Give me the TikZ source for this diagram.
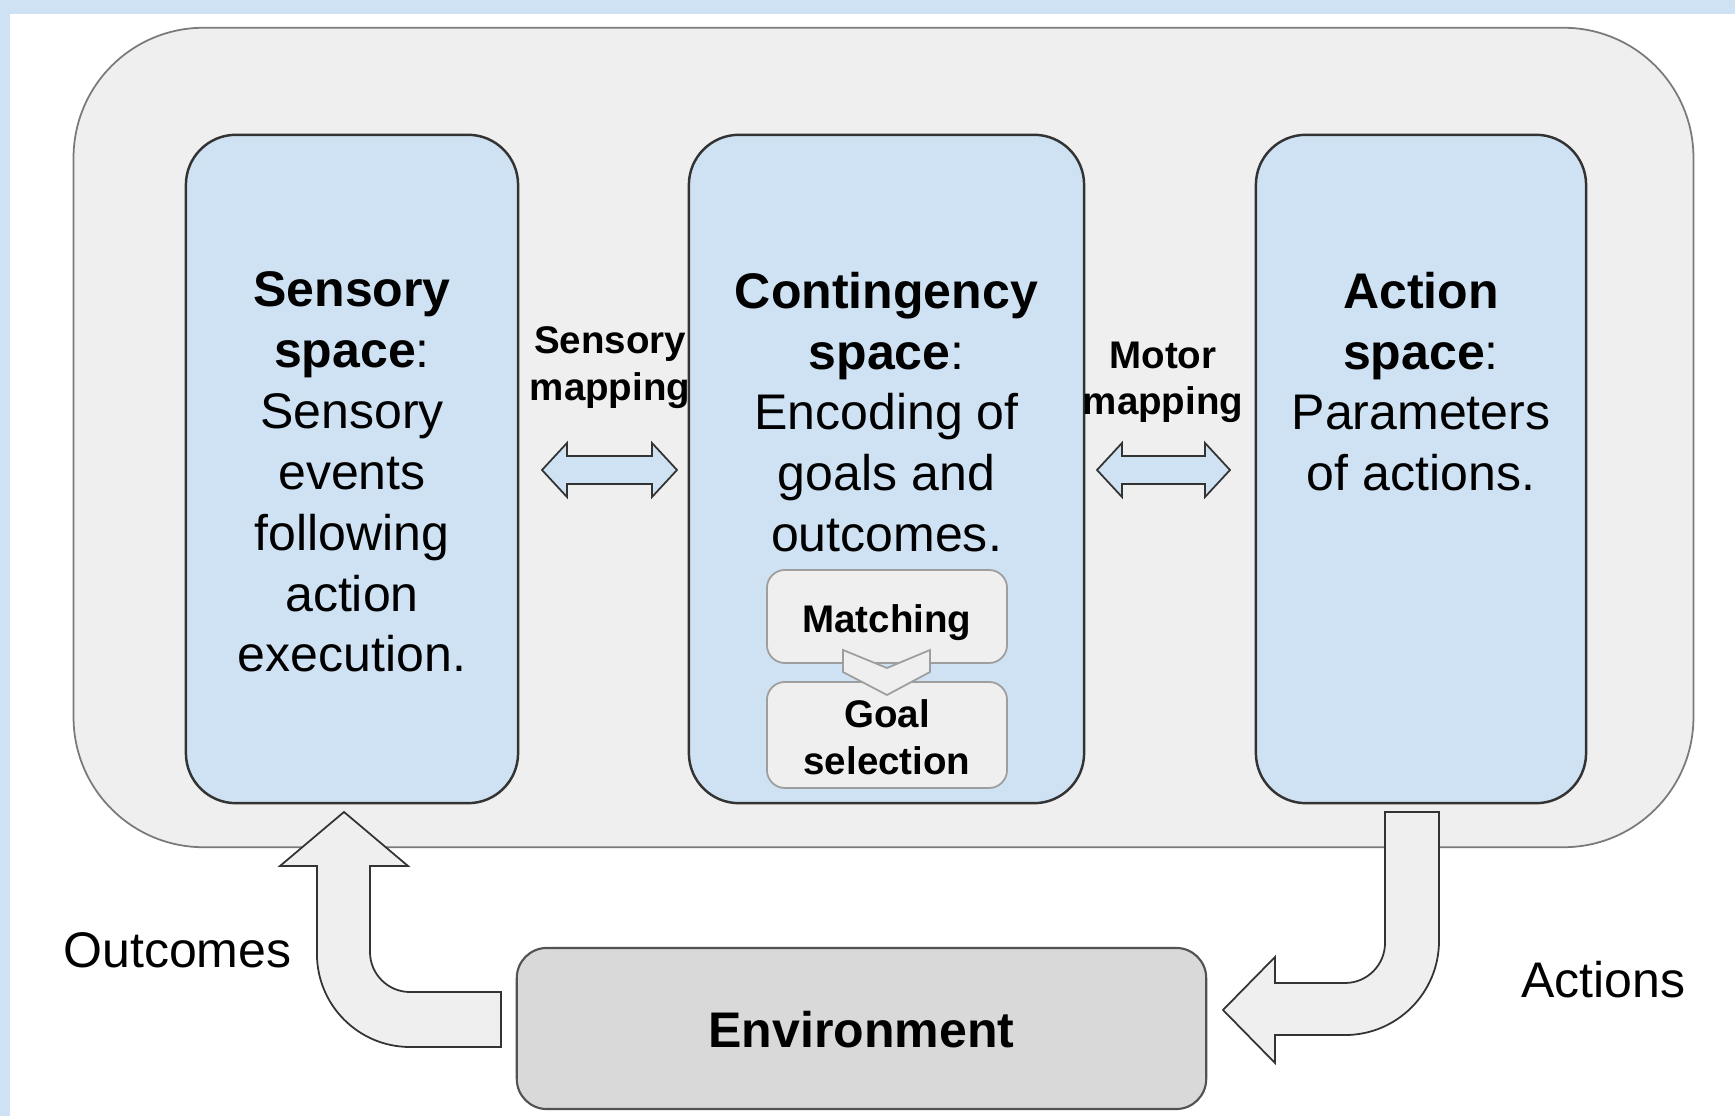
\documentclass[tikz,border=0pt]{standalone}
\usepackage{fontspec}
\setmainfont{Liberation Sans}
\definecolor{bandblue}{HTML}{CFE2F3}
\definecolor{paneblue}{HTML}{CFE2F3}
\definecolor{shellgray}{HTML}{EFEFEF}
\definecolor{shellline}{HTML}{7A7A7A}
\definecolor{envgray}{HTML}{D9D9D9}
\definecolor{darkline}{HTML}{333333}
\definecolor{softline}{HTML}{9E9E9E}
\newcommand\bodyfont{\fontsize{14.23pt}{17.3pt}\selectfont}
\newcommand\labelfont{\fontsize{10.95pt}{13.3pt}\selectfont\bfseries}
\begin{document}
\begin{tikzpicture}[x=0.01cm,y=-0.01cm,
  every node/.style={inner sep=0pt,outer sep=0pt},
  shell/.style={draw=shellline,line width=0.5pt,fill=shellgray,rounded corners=1.3cm},
  panel/.style={draw=darkline,line width=0.7pt,fill=paneblue,rounded corners=0.5cm,minimum height=6.68cm},
  stage/.style={draw=softline,line width=0.5pt,fill=shellgray,rounded corners=0.18cm,minimum width=2.4cm},
  world/.style={draw=darkline!85,line width=0.6pt,fill=envgray,rounded corners=0.3cm},
  blockarrow/.style={draw=darkline,line width=0.5pt,fill=shellgray,line join=miter},
  maparrow/.style={draw=darkline,line width=0.5pt,fill=paneblue,line join=miter},
  bodytext/.style={font=\bodyfont,align=center,anchor=north},
  tag/.style={font=\labelfont,align=center,anchor=north},
]
\useasboundingbox (0,0) rectangle (1735,1116);
% page background with the blue frame on top and left
\fill[bandblue] (0,0) rectangle (1735,1116);
\fill[white] (10,14) rectangle (1735,1116);

% agent shell and its three spaces
\node[shell,minimum width=16.19cm,minimum height=8.19cm] (shell) at (883.5,437.5) {};
\node[panel,minimum width=3.32cm] (sens) at (352,469) {};
\node[panel,minimum width=3.95cm] (cont) at (886.5,469) {};
\node[panel,minimum width=3.30cm] (act) at (1421,469) {};

\node[bodytext] (senstext) at (352,272)
  {\textbf{Sensory}\\\textbf{space}:\\Sensory\\events\\following\\action\\execution.};
\node[bodytext] (conttext) at (886.5,272)
  {\textbf{Contingency}\\\textbf{space}:\\Encoding of\\goals and\\outcomes.};
\node[bodytext] (acttext) at (1421,272)
  {\textbf{Action}\\\textbf{space}:\\Parameters\\of actions.};

% matching and goal selection stages
\node[stage,minimum height=0.93cm] (match) at (887,616.5) {};
\node[stage,minimum height=1.06cm] (goal) at (887,735) {};
\node[font=\labelfont,anchor=base] (matchtext) at (887,633) {Matching};
\node[tag] (goaltext) at (887,700) {Goal\\selection};
\draw[draw=softline,line width=0.5pt,fill=shellgray,line join=miter]
  (843,650) -- (887,668) -- (930,650) -- (930,672) -- (887,695) -- (843,672) -- cycle;

% mapping labels and double arrows
\node[tag] (smaptext) at (610,326.5) {Sensory\\mapping};
\node[tag,font=\fontsize{10.95pt}{13pt}\selectfont\bfseries] (mmaptext) at (1163,342.5) {Motor\\mapping};
\draw[maparrow] (542,470) -- (567,443) -- (567,456) -- (652,456) -- (652,443) -- (677,470)
  -- (652,497) -- (652,484) -- (567,484) -- (567,497) -- cycle;
\draw[maparrow] (1097,470) -- (1122,443) -- (1122,456) -- (1205,456) -- (1205,443) -- (1230,470)
  -- (1205,497) -- (1205,484) -- (1122,484) -- (1122,497) -- cycle;

% environment
\node[world,minimum width=6.89cm,minimum height=1.61cm] (env) at (861.5,1028.5) {};
\node[font=\bodyfont\bfseries,anchor=base] (envtext) at (861.5,1048) {Environment};

% outcomes: from the environment up into the sensory space
\draw[blockarrow] (344,812) -- (408,866) -- (370,866) -- (370,952)
  arc[start angle=180,end angle=270,radius=0.4cm] -- (501,992) -- (501,1047) -- (410,1047)
  arc[start angle=270,end angle=180,radius=0.93cm] -- (317,866) -- (280,866) -- cycle;
\node[font=\bodyfont,anchor=base] (outtext) at (177.5,968) {Outcomes};

% actions: from the action space down to the environment
\draw[blockarrow] (1385,812) -- (1439,812) -- (1439,941)
  arc[start angle=0,end angle=-90,radius=0.94cm] -- (1275,1035) -- (1275,1063) -- (1223,1010)
  -- (1275,957) -- (1275,983) -- (1345,983)
  arc[start angle=-90,end angle=0,radius=0.4cm] -- cycle;
\node[font=\bodyfont,anchor=base] (acttag) at (1603.5,998) {Actions};
\end{tikzpicture}
\end{document}
